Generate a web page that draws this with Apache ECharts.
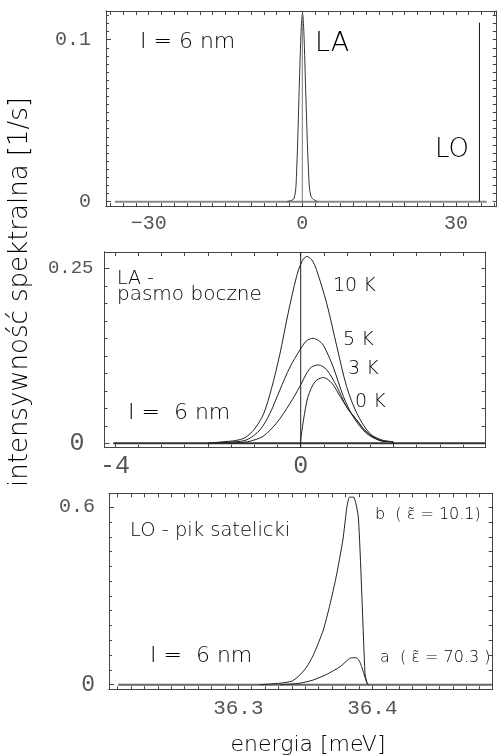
<!DOCTYPE html>
<html><head><meta charset="utf-8">
<script src="https://cdn.jsdelivr.net/npm/echarts@6/dist/echarts.min.js"></script>
<style>html,body{margin:0;padding:0;background:#fff}#c{width:497px;height:756px}</style>
</head><body><div id="c"></div>
<script>
// ---------- DATA ----------
// Panel 1 (wide range)
const p1BaseX = [-36.6, 36.0];
const p1LaX = [-3.0, -1.6, -1.1, -0.6, -0.2, 0.05, 0.3, 0.7, 1.2, 1.7, 3.0];
const p1LaY = [0, 0.002, 0.02, 0.07, 0.108, 0.116, 0.105, 0.065, 0.02, 0.003, 0];
const p1LoX = 34.6;
const p1LoTop = 0.1105;
const p1ZeroTop = 0.116;
const p1XTickVals = [-30, 0, 30];
const p1XTickText = ['\u221230', '0', '30'];
const p1YTickVals = [0, 0.1];
const p1YTickText = ['0', '0.1'];

// Panel 2 (LA side band)
const p2BaseX = [-4.04, 3.97];
const k10X = [-2.0, -1.7, -1.4, -1.2, -1.0, -0.8, -0.63, -0.45, -0.27, -0.09, 0.02, 0.13, 0.24, 0.34, 0.56, 0.78, 0.99, 1.21, 1.49, 1.78, 1.99, 2.0];
const k10Y = [0, 0.002, 0.004, 0.008, 0.02, 0.042, 0.078, 0.127, 0.186, 0.238, 0.259, 0.267, 0.262, 0.248, 0.200, 0.138, 0.081, 0.043, 0.014, 0.004, 0.002, 0];
const k5X = [-2.0, -1.45, -1.16, -0.88, -0.66, -0.45, -0.23, -0.02, 0.12, 0.27, 0.38, 0.49, 0.70, 0.92, 1.13, 1.42, 1.71, 1.99, 2.0];
const k5Y = [0, 0.002, 0.005, 0.019, 0.043, 0.076, 0.109, 0.133, 0.146, 0.150, 0.147, 0.140, 0.109, 0.067, 0.038, 0.014, 0.004, 0.002, 0];
const k3X = [-2.0, -1.35, -1.09, -0.81, -0.52, -0.23, -0.02, 0.20, 0.38, 0.56, 0.78, 0.99, 1.21, 1.42, 1.71, 1.99, 2.0];
const k3Y = [0, 0.001, 0.003, 0.010, 0.029, 0.057, 0.081, 0.107, 0.112, 0.105, 0.081, 0.052, 0.033, 0.016, 0.004, 0.002, 0];
const k0X = [-0.01, 0.06, 0.16, 0.31, 0.49, 0.67, 0.85, 1.03, 1.21, 1.42, 1.71, 1.99, 2.0];
const k0Y = [0, 0.033, 0.067, 0.088, 0.094, 0.086, 0.067, 0.048, 0.033, 0.016, 0.004, 0.002, 0];
const p2XTickVals = [-4, 0, 4];
const p2XTickText = ['-4', '0', '4'];
const p2YTickVals = [0, 0.25];
const p2YTickText = ['0', '0.25'];

// Panel 3 (LO satellite peak)
const p3BaseX = [36.2104, 36.489];
const bX = [36.316, 36.331, 36.340, 36.346, 36.351, 36.356, 36.3634, 36.368, 36.373, 36.378, 36.381, 36.383, 36.386, 36.3896, 36.3945, 36.3958, 36.397];
const bY = [0.0, 0.005, 0.012, 0.033, 0.06, 0.10, 0.185, 0.264, 0.365, 0.489, 0.600, 0.634, 0.634, 0.563, 0.039, 0.010, 0];
const aX = [36.331, 36.346, 36.356, 36.366, 36.376, 36.383, 36.3846, 36.388, 36.390, 36.392, 36.396, 36.397];
const aY = [0.0, 0.005, 0.016, 0.035, 0.061, 0.089, 0.091, 0.091, 0.083, 0.061, 0.005, 0];
const p3XTickVals = [36.3, 36.4];
const p3XTickText = ['36.3', '36.4'];
const p3YTickVals = [0, 0.6];
const p3YTickText = ['0', '0.6'];

// ---------- LAYOUT / STYLE ----------
const ranges = [
  {x: [-38.34, 37.97], y: [-0.0027, 0.1177]},
  {x: [-4.228, 3.987], y: [-0.0063, 0.2733]},
  {x: [36.2035, 36.4898], y: [-0.0156, 0.647]}
];
const grids = [
  {left: 106, top: 11, width: 390.7, height: 195},
  {left: 104.5, top: 252, width: 381.2, height: 195.7},
  {left: 109, top: 493.3, width: 383.7, height: 196}
];
function steps(a, b, s) { const r = []; for (let v = a; v <= b + 1e-9; v += s) r.push(+v.toFixed(6)); return r; }
const minorX = [steps(-37.5, 37.5, 2.5), steps(-4, 3.5, 0.5), steps(36.21, 36.48, 0.01)];
const minorY = [steps(0, 0.115, 0.005), steps(0, 0.27, 0.025), steps(0, 0.64, 0.05)];
const majorX = [[-30, -20, -10, 0, 10, 20, 30], [-4, -2, 0, 2], [36.3, 36.4]];
const majorY = [[0, 0.1], [0, 0.25], [0, 0.6]];

const MONO = '"Liberation Mono", "DejaVu Sans Mono", monospace';
const SANS = '"DejaVu Sans", sans-serif';
const LBL = '#555';
const FRAME = '#444';

function pick(vals, texts, v) {
  for (let i = 0; i < vals.length; i++) if (Math.abs(vals[i] - v) < 1e-6) return texts[i];
  return '';
}
function xAxis(gi, pos, ticks, len, labels, labelOpts) {
  return {
    type: 'value', gridIndex: gi, position: pos, min: ranges[gi].x[0], max: ranges[gi].x[1],
    axisLine: {show: true, onZero: false, lineStyle: {color: FRAME, width: 1}},
    axisTick: {show: true, inside: true, length: len, customValues: ticks, lineStyle: {color: FRAME, width: 1}},
    axisLabel: labels ? Object.assign({show: true, customValues: labels[0], formatter: v => pick(labels[0], labels[1], v),
      fontFamily: MONO, color: LBL}, labelOpts) : {show: false},
    splitLine: {show: false}
  };
}
function yAxis(gi, pos, ticks, len, labels, labelOpts) {
  return {
    type: 'value', gridIndex: gi, position: pos, min: ranges[gi].y[0], max: ranges[gi].y[1],
    axisLine: {show: true, onZero: false, lineStyle: {color: FRAME, width: 1}},
    axisTick: {show: true, inside: true, length: len, customValues: ticks, lineStyle: {color: FRAME, width: 1}},
    axisLabel: labels ? Object.assign({show: true, customValues: labels[0], fontFamily: MONO, color: LBL}, labelOpts) : {show: false},
    splitLine: {show: false}
  };
}
const xAxes = [
  xAxis(0, 'bottom', majorX[0], 5, [p1XTickVals, p1XTickText], {fontSize: 20, margin: 8}),
  xAxis(0, 'top', minorX[0], 4, null),
  xAxis(1, 'bottom', majorX[1], 5, [p2XTickVals, p2XTickText], {fontSize: 25, margin: 6}),
  xAxis(1, 'top', minorX[1], 4, null),
  xAxis(2, 'bottom', majorX[2], 5, [p3XTickVals, p3XTickText], {fontSize: 21, margin: 9}),
  xAxis(2, 'top', minorX[2], 4, null),
  xAxis(0, 'bottom', minorX[0], 3, null),
  xAxis(1, 'bottom', minorX[1], 3, null),
  xAxis(2, 'bottom', minorX[2], 3, null)
];
const yAxes = [
  yAxis(0, 'left', majorY[0], 5, [p1YTickVals, p1YTickText], {fontSize: 20, margin: 15,
    formatter: v => pick(p1YTickVals, p1YTickText, v)}),
  yAxis(0, 'right', minorY[0], 4, null),
  yAxis(1, 'left', majorY[1], 5, [p2YTickVals, p2YTickText], {margin: 11,
    formatter: v => (Math.abs(v) < 1e-9 ? '{b|' : '{s|') + pick(p2YTickVals, p2YTickText, v) + '}',
    rich: {s: {fontSize: 19, fontFamily: MONO, color: LBL}, b: {fontSize: 25, fontFamily: MONO, color: LBL, padding: [0, 9, 0, 0]}}}),
  yAxis(1, 'right', minorY[1], 4, null),
  yAxis(2, 'left', majorY[2], 5, [p3YTickVals, p3YTickText], {margin: 14,
    formatter: v => (Math.abs(v) < 1e-9 ? '{b|' : '{s|') + pick(p3YTickVals, p3YTickText, v) + '}',
    rich: {s: {fontSize: 20, fontFamily: MONO, color: LBL}, b: {fontSize: 23, fontFamily: MONO, color: LBL}}}),
  yAxis(2, 'right', minorY[2], 4, null),
  yAxis(0, 'left', minorY[0], 3, null),
  yAxis(1, 'left', minorY[1], 3, null),
  yAxis(2, 'left', minorY[2], 3, null)
];
function zip(xs, ys) { return xs.map((x, i) => [x, ys[i]]); }
function line(gi, data, color, width, smooth) {
  return {type: 'line', xAxisIndex: gi * 2, yAxisIndex: gi * 2, data: data, symbol: 'none', silent: true,
    smooth: smooth || false, lineStyle: {color: color, width: width}, clip: true};
}
const series = [
  line(0, [[p1BaseX[0], 0], [p1BaseX[1], 0]], '#888', 2),
  line(0, zip(p1LaX, p1LaY), '#333', 1, 0.3),
  line(0, [[0, 0], [0, p1ZeroTop]], '#777', 1),
  line(0, [[p1LoX, 0], [p1LoX, p1LoTop]], '#111', 1),
  line(1, [[p2BaseX[0], 0], [p2BaseX[1], 0]], '#333', 2),
  line(1, [[0, ranges[1].y[0]], [0, ranges[1].y[1]]], '#222', 1),
  line(1, zip(k10X, k10Y), '#222', 1, 0.3),
  line(1, zip(k5X, k5Y), '#222', 1, 0.3),
  line(1, zip(k3X, k3Y), '#222', 1, 0.3),
  line(1, zip(k0X, k0Y), '#222', 1, 0.3),
  line(2, [[p3BaseX[0], 0], [p3BaseX[1], 0]], '#666', 2),
  line(2, zip(bX, bY), '#222', 1, 0.2),
  line(2, zip(aX, aY), '#222', 1, 0.2)
];
function txt(s, x, y, size, opts) {
  return Object.assign({type: 'text', x: x, y: y, silent: true,
    style: Object.assign({text: s, font: '300 ' + size + 'px ' + SANS, fill: '#000', textAlign: 'left', textVerticalAlign: 'middle'}, (opts && opts.style) || {})},
    opts && opts.rotation !== undefined ? {rotation: opts.rotation} : {});
}
const graphic = [
  txt('I = 6 nm', 140, 42, 22),
  txt('LA', 315, 44, 27),
  txt('LO', 435, 150, 26),
  txt('LA -', 117, 279, 19),
  txt('pasmo boczne', 117, 295, 20),
  txt('10 K', 333, 286, 19),
  txt('5 K', 343, 340, 19),
  txt('3 K', 348, 369, 19),
  txt('0 K', 355, 402, 19),
  txt('I =  6 nm', 128, 413, 22),
  txt('LO - pik satelicki', 130, 531, 19.5),
  txt('b  ( \u03B5\u0303 = 10.1)', 375, 515, 16),
  txt('a  ( \u03B5\u0303 = 70.3 )', 380, 658, 16),
  txt('I =  6 nm', 150, 656, 22),
  txt('energia [meV]', 308, 745, 22, {style: {textAlign: 'center'}}),
  txt('intensywność spektralna [1/s]', 20, 292, 26, {rotation: Math.PI / 2, style: {textAlign: 'center'}})
];
const chart = echarts.init(document.getElementById('c'), null, {renderer: 'canvas'});
chart.setOption({
  animation: false,
  backgroundColor: '#fff',
  grid: grids,
  xAxis: xAxes,
  yAxis: yAxes,
  series: series,
  graphic: graphic
});
</script></body></html>
